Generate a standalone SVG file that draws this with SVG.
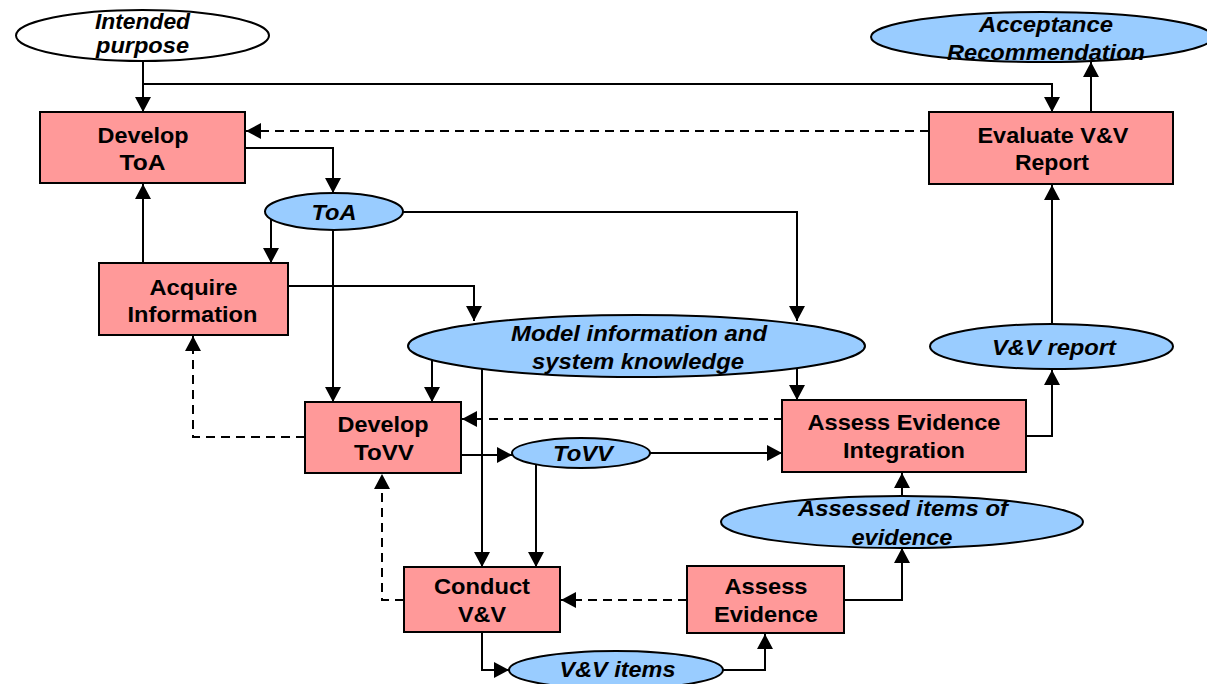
<svg xmlns="http://www.w3.org/2000/svg" width="1207" height="684" viewBox="0 0 1207 684">
  <defs>
    <marker id="arrow" viewBox="0 0 16 16" refX="15" refY="8" markerWidth="16" markerHeight="16" markerUnits="userSpaceOnUse" orient="auto">
      <path d="M0,0 L15,8 L0,16 z" fill="#000"/>
    </marker>
    <style>
      .proc { fill: #FF9999; stroke: #000; stroke-width: 2; }
      .data { fill: #99CCFF; stroke: #000; stroke-width: 2; }
      .input { fill: #FFFFFF; stroke: #000; stroke-width: 2; }
      text { font-family: "Liberation Sans", Arial, sans-serif; font-weight: bold; font-size: 22.5px; text-anchor: middle; fill: #000; }
      .it { font-style: italic; }
      .flow { fill: none; stroke: #000; stroke-width: 2; marker-end: url(#arrow); }
      .fb { stroke-dasharray: 9 6; }
    </style>
  </defs>
  <rect width="1207" height="684" fill="#FFFFFF"/>

  <!-- connectors -->
  <g id="connectors">
    <path class="flow" d="M143,61 V112"/>
    <path class="flow" d="M143,84 H1052 V112"/>
    <path class="flow" d="M1091,112 V62"/>
    <path class="flow fb" d="M929,131 H246"/>
    <path class="flow" d="M245,148 H333 V193"/>
    <path class="flow" d="M143,263 V184"/>
    <path class="flow" d="M271,219 V263"/>
    <path class="flow" d="M333,230 V402"/>
    <path class="flow" d="M403,212 H797 V321"/>
    <path class="flow" d="M288,286 H474 V321"/>
    <path class="flow" d="M432,359 V402"/>
    <path class="flow" d="M482,368 V567"/>
    <path class="flow" d="M797,367 V400"/>
    <path class="flow fb" d="M783,419 H462"/>
    <path class="flow" d="M461,455 H512"/>
    <path class="flow" d="M650,453 H782"/>
    <path class="flow fb" d="M305,437 H193 V336"/>
    <path class="flow" d="M536,463 V567"/>
    <path class="flow fb" d="M404,600 H382 V474"/>
    <path class="flow fb" d="M687,600 H561"/>
    <path class="flow" d="M844,600 H902 V548"/>
    <path class="flow" d="M902,496 V473"/>
    <path class="flow" d="M1026,436 H1052 V370"/>
    <path class="flow" d="M1052,324 V185"/>
    <path class="flow" d="M482,632 V670 H509"/>
    <path class="flow" d="M723,670 H765 V634"/>
  </g>

  <g id="intended-purpose">
    <ellipse class="input" cx="142.5" cy="35.5" rx="126.5" ry="25.5"/>
    <text class="it" x="142.5" y="29" textLength="95" lengthAdjust="spacingAndGlyphs">Intended</text>
    <text class="it" x="142.5" y="53" textLength="93" lengthAdjust="spacingAndGlyphs">purpose</text>
  </g>

  <g id="acceptance-recommendation">
    <ellipse class="data" cx="1042" cy="37" rx="171" ry="25"/>
    <text class="it" x="1046" y="32" textLength="134" lengthAdjust="spacingAndGlyphs">Acceptance</text>
    <text class="it" x="1046" y="60" textLength="198" lengthAdjust="spacingAndGlyphs">Recommendation</text>
  </g>

  <g id="develop-toa">
    <rect class="proc" x="40" y="112" width="205" height="71"/>
    <text x="143" y="143" textLength="91" lengthAdjust="spacingAndGlyphs">Develop</text>
    <text x="142.5" y="170" textLength="46" lengthAdjust="spacingAndGlyphs">ToA</text>
  </g>

  <g id="evaluate-vv-report">
    <rect class="proc" x="929" y="112" width="244" height="72"/>
    <text x="1053" y="143" textLength="151" lengthAdjust="spacingAndGlyphs">Evaluate V&amp;V</text>
    <text x="1052" y="170" textLength="74" lengthAdjust="spacingAndGlyphs">Report</text>
  </g>

  <g id="toa">
    <ellipse class="data" cx="334" cy="211.5" rx="69" ry="18.5"/>
    <text class="it" x="334" y="220" textLength="45" lengthAdjust="spacingAndGlyphs">ToA</text>
  </g>

  <g id="acquire-information">
    <rect class="proc" x="99" y="263" width="189" height="72"/>
    <text x="193.5" y="294.5" textLength="88" lengthAdjust="spacingAndGlyphs">Acquire</text>
    <text x="192.5" y="322" textLength="130" lengthAdjust="spacingAndGlyphs">Information</text>
  </g>

  <g id="model-information">
    <ellipse class="data" cx="636.5" cy="346" rx="228.5" ry="31"/>
    <text class="it" x="639" y="341" textLength="256" lengthAdjust="spacingAndGlyphs">Model information and</text>
    <text class="it" x="638" y="369" textLength="212" lengthAdjust="spacingAndGlyphs">system knowledge</text>
  </g>

  <g id="vv-report">
    <ellipse class="data" cx="1051.5" cy="346.5" rx="121.5" ry="22.5"/>
    <text class="it" x="1054" y="355" textLength="124" lengthAdjust="spacingAndGlyphs">V&amp;V report</text>
  </g>

  <g id="develop-tovv">
    <rect class="proc" x="305" y="402" width="156" height="71"/>
    <text x="383" y="432" textLength="91" lengthAdjust="spacingAndGlyphs">Develop</text>
    <text x="384" y="460" textLength="60" lengthAdjust="spacingAndGlyphs">ToVV</text>
  </g>

  <g id="assess-evidence-integration">
    <rect class="proc" x="782" y="400" width="244" height="72"/>
    <text x="904" y="430" textLength="193" lengthAdjust="spacingAndGlyphs">Assess Evidence</text>
    <text x="904" y="458" textLength="122" lengthAdjust="spacingAndGlyphs">Integration</text>
  </g>

  <g id="tovv">
    <ellipse class="data" cx="581" cy="453" rx="69" ry="15"/>
    <text class="it" x="583" y="461" textLength="60" lengthAdjust="spacingAndGlyphs">ToVV</text>
  </g>

  <g id="assessed-items">
    <ellipse class="data" cx="902" cy="522" rx="181" ry="26"/>
    <text class="it" x="903" y="516" textLength="210" lengthAdjust="spacingAndGlyphs">Assessed items of</text>
    <text class="it" x="902" y="545" textLength="101" lengthAdjust="spacingAndGlyphs">evidence</text>
  </g>

  <g id="conduct-vv">
    <rect class="proc" x="404" y="567" width="156" height="65"/>
    <text x="482" y="594" textLength="96" lengthAdjust="spacingAndGlyphs">Conduct</text>
    <text x="482" y="622" textLength="48" lengthAdjust="spacingAndGlyphs">V&amp;V</text>
  </g>

  <g id="assess-evidence">
    <rect class="proc" x="687" y="566" width="157" height="67"/>
    <text x="766" y="594" textLength="83" lengthAdjust="spacingAndGlyphs">Assess</text>
    <text x="766" y="622" textLength="104" lengthAdjust="spacingAndGlyphs">Evidence</text>
  </g>

  <g id="vv-items">
    <ellipse class="data" cx="616" cy="670" rx="107" ry="19"/>
    <text class="it" x="617.5" y="677" textLength="116" lengthAdjust="spacingAndGlyphs">V&amp;V items</text>
  </g>
</svg>
